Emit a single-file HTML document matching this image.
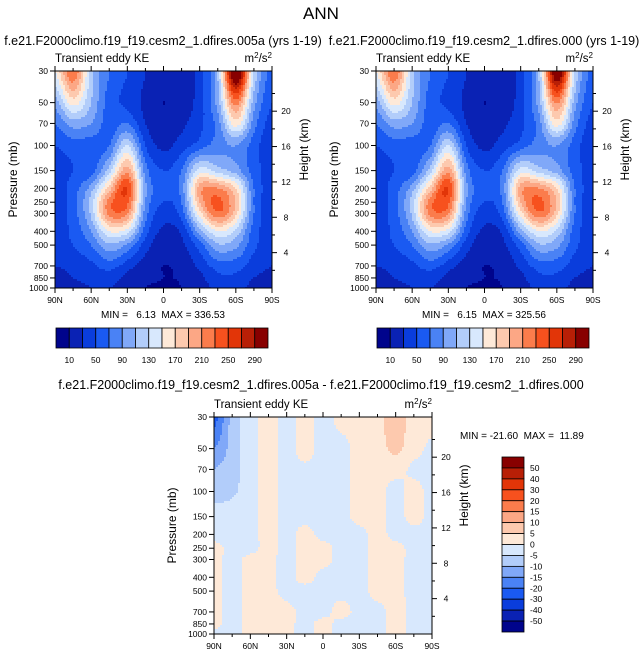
<!DOCTYPE html>
<html><head><meta charset="utf-8"><style>
body{margin:0;background:#fff;}
svg{display:block;font-family:"Liberation Sans",sans-serif;}
text{white-space:pre;}
</style></head><body>
<svg id="fig" width="643" height="658" viewBox="0 0 643 658">
<text x="321" y="19" text-anchor="middle" font-size="17">ANN</text>
</svg>
<script>
const lats=[90,75,60,45,30,15,0,-15,-30,-45,-60,-75,-90];
const levs=[30,50,70,100,150,200,250,300,400,500,700,850,1000];
const keA=[
[150,230,120,70,50,30,15,20,40,110,330,130,60],
[100,160,110,60,45,25,10,20,40,100,220,100,50],
[70,100,90,60,70,30,15,25,45,80,160,80,40],
[50,60,60,70,130,50,25,40,60,80,90,60,30],
[40,50,60,120,200,80,50,70,140,120,100,60,40],
[40,60,100,180,250,95,60,80,200,210,170,70,40],
[40,60,120,220,235,90,50,70,190,235,185,70,40],
[40,60,115,215,210,80,40,60,160,225,175,70,40],
[40,55,90,150,140,60,25,35,100,150,125,60,40],
[40,50,70,105,85,40,15,25,60,105,95,55,35],
[30,35,45,60,40,20,10,15,35,60,60,40,30],
[25,30,35,40,25,15,10,12,25,45,45,30,25],
[25,25,30,30,20,10,8,10,20,35,35,25,20]];
const keB=[
[150,230,120,70,50,30,15,20,40,110,320,130,60],
[100,160,110,60,45,25,10,20,40,100,215,100,50],
[70,100,90,60,70,30,15,25,45,80,160,80,40],
[50,60,60,70,130,50,25,40,60,80,90,60,30],
[40,50,60,120,200,80,50,70,140,120,100,60,40],
[40,60,100,180,250,95,60,80,200,210,170,70,40],
[40,60,120,220,235,90,50,70,190,235,185,70,40],
[40,60,115,215,210,80,40,60,160,225,175,70,40],
[40,55,90,150,140,60,25,35,100,150,125,60,40],
[40,50,70,105,85,40,15,25,60,105,95,55,35],
[30,35,45,60,40,20,10,15,35,60,60,40,30],
[25,30,35,40,25,15,10,12,25,45,45,30,25],
[25,25,30,30,20,10,8,10,20,35,35,25,20]];
const diff=[
[-22,-8,-2,2,-2,2,-2,2,2,3,8,2,2],
[-15,-8,-2,2,-2,2,-2,-2,2,3,6,2,-1],
[-10,-7,-2,2,-2,-1,-2,-2,2,2,2,-1,-2],
[-8,-6,-2,2,-2,-2,-2,-2,2,2,-2,2,-2],
[-2,-2,-2,2,-2,-2,-2,-2,2,2,-2,2,-2],
[-2,-2,-2,2,-2,2,-2,-2,-2,2,-2,-2,-2],
[2,-2,-2,2,-2,2,2,-2,-2,2,2,-2,-2],
[2,-2,2,2,-2,2,2,-2,-2,2,2,-2,-2],
[2,-2,2,2,-2,2,-2,-2,-2,2,2,-2,-2],
[2,-2,2,2,-2,-2,-2,-2,-2,2,2,-2,-2],
[2,-2,2,2,2,-2,-2,2,-2,-2,2,-2,-2],
[2,-2,2,2,2,-2,2,-2,-2,-2,2,-2,-2],
[-2,-2,2,2,2,-2,2,-2,-2,-2,2,-2,-2]];
const keLevels=[10,30,50,70,90,110,130,150,170,190,210,230,250,270,290];
const diffLevels=[-50,-40,-30,-20,-15,-10,-5,0,5,10,15,20,30,40,50];
const colors=["#00048c","#0a22b4","#0a3ddc","#1a5af2","#4a82f5","#80a8f8","#b2cdfa","#d8e8fd","#fee9d8","#fdc9ae","#fca785","#fb7c4c","#f7511e","#e23508","#b81f06","#880000"];
const keTicks=["10","50","90","130","170","210","250","290"];
const diffTicks=["50","40","30","20","15","10","5","0","-5","-10","-15","-20","-30","-40","-50"];
const latLabels=["90N","60N","30N","0","30S","60S","90S"];
const latTickVals=[90,60,30,0,-30,-60,-90];
const presLabels=[30,50,70,100,150,200,250,300,400,500,700,850,1000];
const kmLabels=[20,16,12,8,4];

const svg=document.getElementById('fig');
const NS="http://www.w3.org/2000/svg";
function mk(tag,attrs,parent){const e=document.createElementNS(NS,tag);for(const k in attrs)e.setAttribute(k,attrs[k]);(parent||svg).appendChild(e);return e;}
function txt(x,y,s,size,anchor,parent,rot){const t=mk('text',{x:x,y:y,'font-size':size,'text-anchor':anchor||'start'},parent);if(rot)t.setAttribute('transform','rotate(-90 '+x+' '+y+')');t.textContent=s;return t;}
function colorFor(v,lv){let i=0;while(i<lv.length&&v>=lv[i])i++;return colors[i];}
function cr(p0,p1,p2,p3,t){return 0.5*((2*p1)+(-p0+p2)*t+(2*p0-5*p1+4*p2-p3)*t*t+(-p0+3*p1-3*p2+p3)*t*t*t);}
function sample(grid,lat,p){
  const n=levs.length,m=lats.length;
  const lp=Math.log(p);
  let j=0;while(j<n-2&&Math.log(levs[j+1])<lp)j++;
  const ty=Math.max(0,Math.min(1,(lp-Math.log(levs[j]))/(Math.log(levs[j+1])-Math.log(levs[j]))));
  let i=0;while(i<m-2&&lats[i+1]>lat)i++;
  const tx=Math.max(0,Math.min(1,(lats[i]-lat)/(lats[i]-lats[i+1])));
  const cl=(a,lo,hi)=>Math.max(lo,Math.min(hi,a));
  const rows=[];
  for(let dj=-1;dj<=2;dj++){const r=grid[cl(j+dj,0,n-1)];
    rows.push(cr(r[cl(i-1,0,m-1)],r[i],r[i+1],r[cl(i+2,0,m-1)],tx));}
  return cr(rows[0],rows[1],rows[2],rows[3],ty);
}
function panel(x0,y0,w,h,grid,lv,name){
  const g=mk('g',{});
  
  
  const xs=lat=>x0+(90-lat)/180*w;
  const ys=p=>y0+h*Math.log(p/30)/Math.log(1000/30);
  const cell=2;
  for(let py=0;py<h;py+=cell){
    const p=30*Math.exp((py+cell/2)/h*Math.log(1000/30));
    let prev=null,start=0;
    for(let px=0;px<w+cell;px+=cell){
      let col=null;
      if(px<w){const lat=90-(px+cell/2)/w*180;col=colorFor(sample(grid,lat,p),lv);}
      if(col!==prev){
        if(prev){const r=mk('rect',{x:x0+start,y:y0+py,width:Math.min(px,w)-start+0.5,height:Math.min(cell,h-py)+0.5,fill:prev},g);
          
          }
        prev=col;start=px;}
    }
  }
  const ax=mk('g',{stroke:'#000','stroke-width':1,fill:'none'});
  
  
  mk('rect',{x:x0,y:y0,width:w,height:h},ax);
  latTickVals.forEach((l,k)=>{const x=xs(l);mk('line',{x1:x,y1:y0+h,x2:x,y2:y0+h+5},ax);mk('line',{x1:x,y1:y0,x2:x,y2:y0-5},ax);
    const t=txt(x,y0+h+15,latLabels[k],8.5,'middle');});
  for(let l=75;l>-90;l-=15){if(l%30){const x=xs(l);mk('line',{x1:x,y1:y0+h,x2:x,y2:y0+h+3},ax);mk('line',{x1:x,y1:y0,x2:x,y2:y0-3},ax);}}
  presLabels.forEach(p=>{const y=ys(p);mk('line',{x1:x0-5,y1:y,x2:x0,y2:y},ax);
    const t=txt(x0-7,y+3,String(p),8.5,'end');});
  kmLabels.forEach(km=>{const p=1000*Math.exp(-km/7);const y=ys(p);mk('line',{x1:x0+w,y1:y,x2:x0+w+5,y2:y},ax);
    const t=txt(x0+w+14,y+3,String(km),8.5,'middle');});
  for(let km=2;km<24;km+=4){const y=ys(1000*Math.exp(-km/7));if(y>y0)mk('line',{x1:x0+w,y1:y,x2:x0+w+3,y2:y},ax);}
  let t=txt(x0-38,y0+h/2,'Pressure (mb)',12,'middle',null,true);
  t=txt(x0+w+36,y0+h/2-30,'Height (km)',12,'middle',null,true);
  t=txt(x0,y0-9,'Transient eddy KE',11.5);
  t=mk('text',{x:x0+w,y:y0-9,'font-size':11.5,'text-anchor':'end'});t.innerHTML='m<tspan dy="-4" font-size="8">2</tspan><tspan dy="4">/s</tspan><tspan dy="-4" font-size="8">2</tspan>';
  
}
function hbar(x0,y0,w,h,name){
  const g=mk('g',{});
  const bw=w/colors.length;
  colors.forEach((c,i)=>{const r=mk('rect',{x:x0+i*bw,y:y0,width:bw,height:h,fill:c,stroke:'#000','stroke-width':0.8},g);
    });
  keTicks.forEach((s,k)=>{const t=txt(x0+(1+2*k)*bw,y0+h+15,s,8.5,'middle',g);});
}
panel(55,71,217,217,keA,keLevels,'panel-005a');
panel(376,71,217,217,keB,keLevels,'panel-000');
panel(214,417,218,217,diff,diffLevels,'panel-difference');
hbar(56,328,212,20,'colorbar-005a');
hbar(377,328,212,20,'colorbar-000');
(function(){const x0=502,y0=457,w=22,h=175;const g=mk('g',{});
  const bh=h/colors.length;
  colors.slice().reverse().forEach((c,i)=>{const r=mk('rect',{x:x0,y:y0+i*bh,width:w,height:bh,fill:c,stroke:'#000','stroke-width':0.8},g);
    });
  diffTicks.forEach((s,k)=>{const t=txt(x0+w+6,y0+(k+1)*bh+3,s,8.5,'start',g);});
})();
function lbl(x,y,s,size,anchor,name){const t=txt(x,y,s,size,anchor);}
lbl(163,45,'f.e21.F2000climo.f19_f19.cesm2_1.dfires.005a (yrs 1-19)',12.5,'middle','left-panel-title');
lbl(484,45,'f.e21.F2000climo.f19_f19.cesm2_1.dfires.000 (yrs 1-19)',12.5,'middle','right-panel-title');
lbl(163,318,'MIN =   6.13  MAX = 336.53',10,'middle','minmax-005a');
lbl(484,318,'MIN =   6.15  MAX = 325.56',10,'middle','minmax-000');
lbl(321,389,'f.e21.F2000climo.f19_f19.cesm2_1.dfires.005a - f.e21.F2000climo.f19_f19.cesm2_1.dfires.000',12.5,'middle','difference-title');
lbl(460,439,'MIN = -21.60  MAX =  11.89',10,'start','minmax-difference');
</script>
</body></html>
